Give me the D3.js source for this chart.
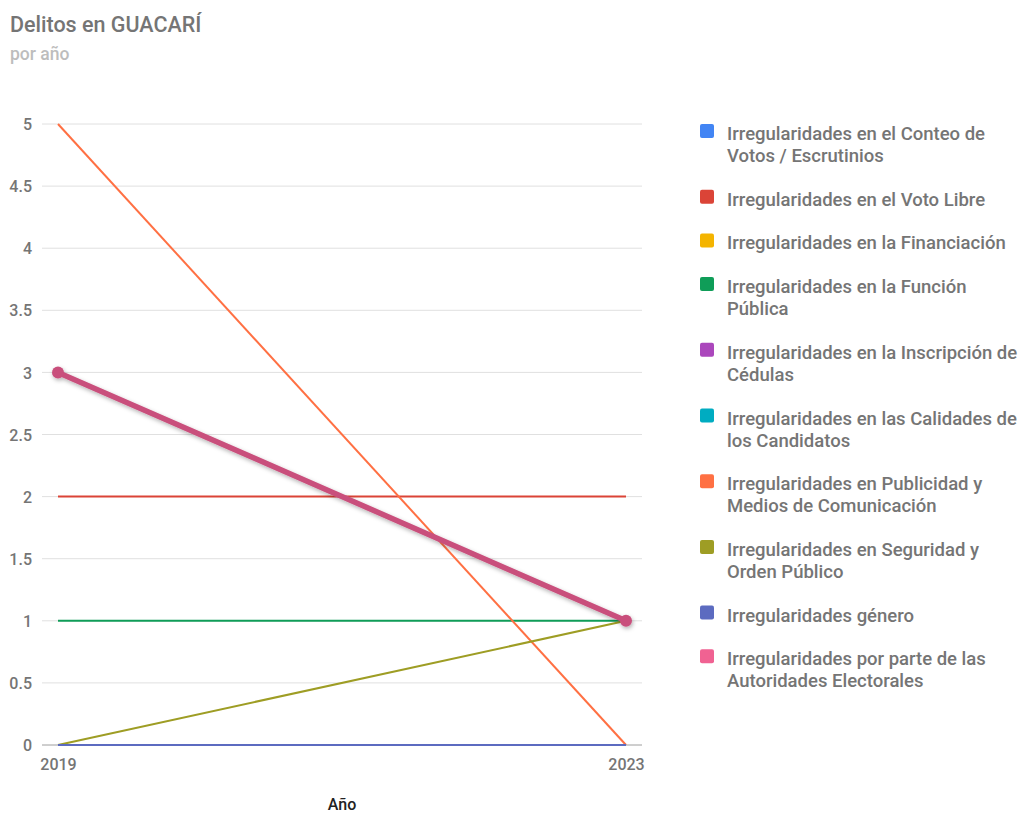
<!DOCTYPE html>
<html><head><meta charset="utf-8">
<script src="https://cdn.jsdelivr.net/npm/d3@7"></script>
<style>
body{margin:0;background:#fff;}
text{font-family:Roboto,"Noto Sans",sans-serif;font-weight:500;}
</style></head>
<body><svg id="chart" width="1026" height="814"></svg>
<script>
const years = ["2019", "2023"];
const seriesNames = [
  "Irregularidades en el Conteo de Votos / Escrutinios",
  "Irregularidades en el Voto Libre",
  "Irregularidades en la Financiación",
  "Irregularidades en la Función Pública",
  "Irregularidades en la Inscripción de Cédulas",
  "Irregularidades en las Calidades de los Candidatos",
  "Irregularidades en Publicidad y Medios de Comunicación",
  "Irregularidades en Seguridad y Orden Público",
  "Irregularidades género",
  "Irregularidades por parte de las Autoridades Electorales"
];
const seriesValues = [
  [0, 0],
  [2, 2],
  [0, 0],
  [1, 1],
  [0, 0],
  [0, 0],
  [5, 0],
  [0, 1],
  [0, 0],
  [3, 1]
];
const colors = ["#4285f4","#db4437","#f4b400","#0f9d58","#ab47bc","#00acc1","#ff7043","#9e9d24","#5c6bc0","#f06292"];
const highlighted = 9;
const highlightColor = "#c94f7c";
const yTicks = [0, 0.5, 1, 1.5, 2, 2.5, 3, 3.5, 4, 4.5, 5];
const title = "Delitos en GUACARÍ";
const subtitle = "por año";
const xTitle = "Año";

const svg = d3.select("#chart");
const plotL = 42, plotR = 642, yTop = 124, yBot = 745;
const x = d3.scalePoint().domain(years).range([58, 626]);
const y = d3.scaleLinear().domain([0, 5]).range([yBot, yTop]);

const defs = svg.append("defs");
const f = defs.append("filter").attr("id","shadow").attr("x","-20%").attr("y","-20%").attr("width","140%").attr("height","140%");
f.append("feDropShadow").attr("dx",1).attr("dy",2).attr("stdDeviation",2).attr("flood-color","#000").attr("flood-opacity",0.3);

svg.append("text").attr("x",10).attr("y",32).attr("font-size",21.5).attr("fill","#757575").text(title);
svg.append("text").attr("x",10).attr("y",60).attr("font-size",17.5).attr("fill","#bdbdbd").text(subtitle);

// gridlines
svg.append("g").selectAll("line").data(yTicks.filter(d=>d>0)).join("line")
  .attr("x1",plotL).attr("x2",plotR).attr("y1",d=>y(d)).attr("y2",d=>y(d))
  .attr("stroke","#e0e0e0").attr("stroke-width",1);

// y axis labels
const yAxis = d3.axisLeft(y).tickValues(yTicks).tickSize(0).tickPadding(0).tickFormat(d3.format("~g"));
const gy = svg.append("g").attr("transform",`translate(${plotL-10},0)`).call(yAxis);
gy.select(".domain").remove();
gy.selectAll("text").attr("font-size",16).attr("fill","#757575").attr("font-family","Roboto").attr("font-weight",500).attr("dy","0.35em");

// baseline
svg.append("line").attr("x1",plotL).attr("x2",plotR).attr("y1",y(0)).attr("y2",y(0)).attr("stroke","#9e9e9e").attr("stroke-width",1);

// x axis labels
const xAxis = d3.axisBottom(x).tickSize(0).tickPadding(0);
const gx = svg.append("g").attr("transform",`translate(0,${yBot})`).call(xAxis);
gx.select(".domain").remove();
gx.selectAll("text").attr("font-size",16).attr("fill","#757575").attr("font-family","Roboto").attr("font-weight",500).attr("dy","0").attr("y",25);

svg.append("text").attr("x",(plotL+plotR)/2).attr("y",810).attr("text-anchor","middle").attr("font-size",16).attr("fill","#222").text(xTitle);

const line = d3.line().x((d,i)=>x(years[i])).y(d=>y(d));
seriesValues.forEach((vals,i)=>{
  if(i===highlighted) return;
  svg.append("path").attr("d",line(vals)).attr("fill","none").attr("stroke",colors[i]).attr("stroke-width",2);
});
const hg = svg.append("g").attr("filter","url(#shadow)");
hg.append("path").attr("d",line(seriesValues[highlighted])).attr("fill","none").attr("stroke",highlightColor).attr("stroke-width",5.5).attr("stroke-linecap","round");
hg.selectAll("circle").data(seriesValues[highlighted]).join("circle")
  .attr("cx",(d,i)=>x(years[i])).attr("cy",d=>y(d)).attr("r",6).attr("fill",highlightColor);

// legend
const lg = svg.append("g");
let ly = 133;
const maxW = 298, lineH = 22, fs = 18.5;
seriesNames.forEach((name,i)=>{
  lg.append("rect").attr("x",700).attr("y",ly-9).attr("width",14).attr("height",14).attr("rx",2).attr("fill",colors[i]);
  const t = lg.append("text").attr("x",727).attr("y",ly+7).attr("font-size",fs).attr("fill","#757575");
  const words = name.split(" ");
  let lines = [], cur = [];
  const probe = lg.append("text").attr("font-size",fs);
  words.forEach(w=>{
    const test = cur.concat([w]).join(" ");
    probe.text(test);
    if(probe.node().getComputedTextLength() > maxW && cur.length){ lines.push(cur.join(" ")); cur=[w]; }
    else cur.push(w);
  });
  lines.push(cur.join(" "));
  probe.remove();
  lines.forEach((l,k)=>t.append("tspan").attr("x",727).attr("dy",k===0?0:lineH).text(l));
  ly += lines.length*lineH + 21.7;
});
</script></body></html>
